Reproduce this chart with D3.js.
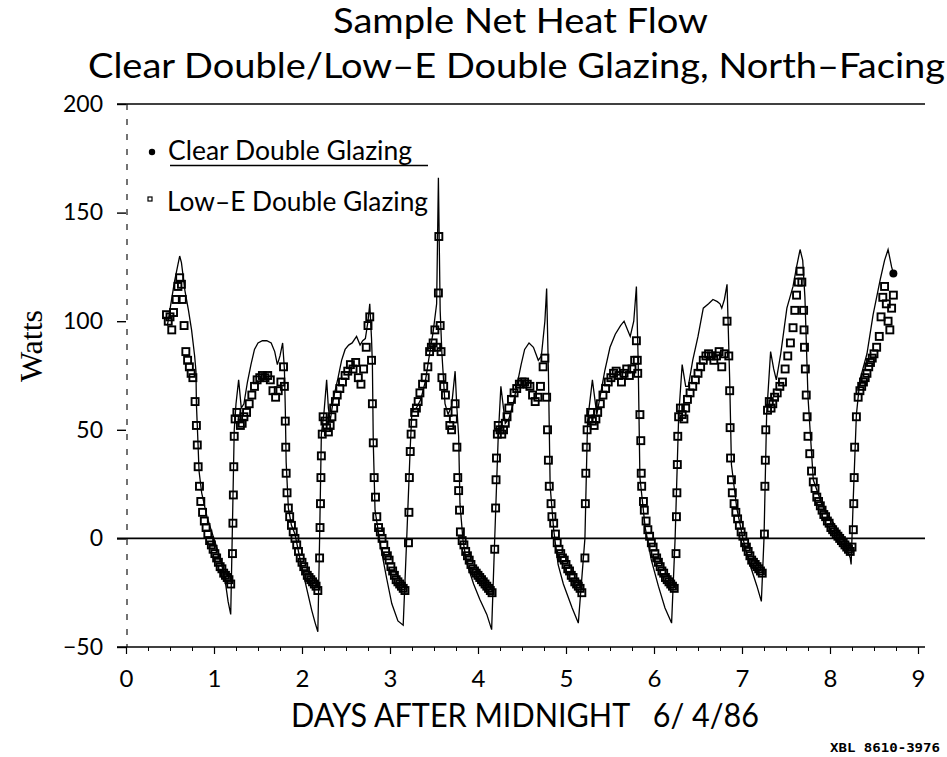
<!DOCTYPE html>
<html>
<head>
<meta charset="utf-8">
<script src="https://cdn.jsdelivr.net/npm/d3@7"></script>
<style>
  body { margin: 0; background: #fff; }
  text { font-family: "Lato", "Liberation Sans", sans-serif; fill: #000; }
</style>
</head>
<body>
<script>
// Clear double glazing, drawn as a line: [days after midnight, watts]
var clearGlazing = [
  [0.47, 98], [0.51, 108], [0.55, 118], [0.59, 126], [0.61, 130], [0.63, 127], [0.67, 114], [0.71, 105], [0.745, 96],
  [0.78, 84], [0.795, 77], [0.80, 62], [0.815, 47], [0.83, 31], [0.86, 21], [0.92, 10], [0.99, 1], [1.07, -9],
  [1.125, -19], [1.16, -29], [1.19, -35],
  [1.21, 7], [1.23, 50], [1.25, 62], [1.28, 73], [1.31, 60], [1.34, 62], [1.38, 72], [1.42, 80], [1.46, 87], [1.50, 90],
  [1.55, 91], [1.60, 91], [1.65, 90], [1.69, 86], [1.72, 80], [1.75, 84], [1.78, 90], [1.80, 78], [1.81, 60], [1.82, 35],
  [1.845, 14], [1.88, 6], [1.92, 2], [1.97, -8], [2.03, -19], [2.07, -26], [2.11, -33], [2.15, -39], [2.18, -43],
  [2.20, 0], [2.22, 48], [2.25, 58], [2.28, 73], [2.30, 60], [2.32, 54], [2.36, 65], [2.41, 74], [2.45, 82], [2.49, 87],
  [2.53, 89], [2.57, 90], [2.62, 93], [2.66, 89], [2.69, 91], [2.72, 92], [2.75, 100], [2.77, 108], [2.79, 92], [2.80, 80],
  [2.81, 44], [2.83, 13], [2.89, -3], [2.96, -18], [3.02, -30], [3.09, -38], [3.15, -40],
  [3.19, 0], [3.23, 42], [3.25, 59], [3.30, 60], [3.35, 64], [3.40, 72], [3.45, 85], [3.49, 95], [3.53, 108], [3.55, 166],
  [3.57, 105], [3.59, 85], [3.625, 62], [3.66, 57], [3.70, 61], [3.74, 77], [3.76, 60], [3.78, 47], [3.795, 16], [3.83, -1],
  [3.87, -11], [3.95, -21], [4.02, -28], [4.10, -35], [4.155, -42],
  [4.19, 0], [4.23, 47], [4.26, 70], [4.31, 53], [4.35, 55], [4.40, 62], [4.44, 70], [4.49, 80], [4.53, 87], [4.58, 90],
  [4.63, 88], [4.685, 82], [4.72, 84], [4.76, 100], [4.78, 115], [4.80, 77], [4.82, 24], [4.86, 4], [4.91, -12], [4.97, -21],
  [5.07, -32], [5.14, -39],
  [5.215, 0], [5.245, 54], [5.30, 73], [5.35, 57], [5.40, 68], [5.44, 77], [5.50, 88], [5.56, 94], [5.62, 98], [5.66, 100],
  [5.70, 96], [5.73, 93], [5.77, 100], [5.80, 116], [5.82, 82], [5.84, 28], [5.90, 5], [5.97, -10], [6.05, -22], [6.125, -32],
  [6.20, -39],
  [6.24, 0], [6.28, 56], [6.32, 80], [6.36, 70], [6.39, 70], [6.44, 82], [6.50, 93], [6.56, 106], [6.62, 108], [6.67, 110],
  [6.72, 109], [6.75, 108], [6.77, 106], [6.80, 110], [6.83, 117], [6.86, 73], [6.88, 34], [6.94, 14], [7.01, 0], [7.09, -12],
  [7.17, -22], [7.22, -29],
  [7.25, 0], [7.28, 57], [7.325, 86], [7.36, 78], [7.39, 73], [7.44, 85], [7.51, 106], [7.58, 116], [7.62, 125], [7.66, 133],
  [7.69, 128], [7.715, 111], [7.75, 65], [7.81, 27], [7.905, 16], [7.97, 11], [8.04, 7], [8.10, 3], [8.15, 0], [8.23, -9],
  [8.24, -12],
  [8.265, 19], [8.30, 57], [8.34, 73], [8.42, 85], [8.49, 103], [8.57, 119], [8.62, 128], [8.66, 133], [8.70, 125], [8.72, 122]
];

// Low-E double glazing, drawn as open squares: [days after midnight, watts]
var lowEGlazing = [
  [0.46, 103], [0.48, 100], [0.50, 102], [0.52, 96], [0.54, 104], [0.57, 110], [0.59, 116], [0.61, 120], [0.63, 117],
  [0.64, 110], [0.66, 98], [0.68, 86], [0.70, 82], [0.72, 79], [0.74, 76], [0.76, 74], [0.785, 63], [0.80, 52], [0.81, 43],
  [0.82, 33], [0.835, 24], [0.85, 17], [0.87, 12], [0.89, 8], [0.91, 5], [0.93, 2], [0.95, -1], [0.97, -3], [0.99, -5],
  [1.01, -7], [1.03, -9], [1.05, -11], [1.07, -13], [1.09, -14], [1.11, -16], [1.13, -17], [1.15, -18], [1.17, -19], [1.19, -21],
  [1.21, -7], [1.215, 7], [1.22, 20], [1.225, 33], [1.23, 47], [1.24, 55], [1.26, 58], [1.28, 55], [1.30, 52], [1.32, 53],
  [1.34, 56], [1.37, 58], [1.40, 62], [1.43, 66], [1.46, 70], [1.49, 73], [1.52, 74], [1.55, 75], [1.58, 74], [1.61, 75],
  [1.64, 73], [1.67, 68], [1.70, 65], [1.73, 68], [1.76, 72], [1.79, 79], [1.80, 70], [1.81, 54], [1.815, 42], [1.82, 30],
  [1.83, 21], [1.845, 14], [1.86, 10], [1.88, 6], [1.90, 3], [1.92, 0], [1.94, -3], [1.96, -6], [1.98, -9], [2.00, -11],
  [2.02, -13], [2.04, -15], [2.06, -17], [2.08, -18], [2.10, -19], [2.12, -20], [2.14, -21], [2.16, -22], [2.18, -24],
  [2.20, -9], [2.205, 5], [2.21, 16], [2.215, 28], [2.22, 38], [2.23, 48], [2.24, 56], [2.26, 54], [2.28, 51], [2.30, 49],
  [2.32, 52], [2.34, 56], [2.36, 60], [2.38, 63], [2.40, 66], [2.43, 69], [2.46, 72], [2.49, 75], [2.52, 77], [2.55, 80],
  [2.58, 78], [2.61, 81], [2.64, 74], [2.67, 71], [2.70, 78], [2.73, 88], [2.75, 98], [2.77, 102], [2.79, 82], [2.80, 62],
  [2.81, 44], [2.82, 28], [2.835, 19], [2.85, 10], [2.87, 5], [2.89, 3], [2.91, 0], [2.93, -3], [2.95, -6], [2.97, -8],
  [2.99, -10], [3.01, -13], [3.03, -15], [3.05, -17], [3.07, -19], [3.09, -20], [3.11, -21], [3.13, -22], [3.15, -23], [3.17, -24],
  [3.21, -2], [3.215, 12], [3.22, 28], [3.23, 40], [3.24, 48], [3.26, 53], [3.28, 58], [3.30, 60], [3.32, 63], [3.34, 67],
  [3.37, 71], [3.40, 74], [3.43, 79], [3.45, 86], [3.47, 88], [3.49, 90], [3.51, 96], [3.53, 88], [3.55, 113], [3.555, 139],
  [3.57, 98], [3.58, 86], [3.59, 74], [3.61, 70], [3.63, 66], [3.66, 58], [3.68, 52], [3.70, 50], [3.72, 55], [3.74, 62],
  [3.76, 42], [3.77, 28], [3.78, 22], [3.79, 13], [3.80, 3], [3.82, -1], [3.84, -3], [3.86, -6], [3.88, -8], [3.90, -10],
  [3.92, -12], [3.94, -14], [3.96, -15], [3.98, -16], [4.00, -17], [4.02, -18], [4.04, -19], [4.06, -20], [4.08, -21],
  [4.10, -22], [4.12, -23], [4.14, -24], [4.16, -25],
  [4.19, -5], [4.20, 14], [4.205, 27], [4.21, 37], [4.22, 48], [4.23, 52], [4.25, 50], [4.27, 48], [4.29, 50], [4.31, 53],
  [4.33, 56], [4.35, 60], [4.38, 64], [4.41, 67], [4.44, 69], [4.47, 71], [4.50, 72], [4.53, 72], [4.56, 71], [4.59, 70],
  [4.62, 66], [4.65, 63], [4.68, 65], [4.71, 70], [4.74, 79], [4.76, 83], [4.78, 65], [4.79, 50], [4.80, 36], [4.81, 24],
  [4.83, 16], [4.84, 10], [4.86, 7], [4.88, 2], [4.90, -2], [4.92, -5], [4.94, -7], [4.96, -9], [4.98, -10], [5.00, -12],
  [5.02, -14], [5.04, -15], [5.06, -17], [5.08, -18], [5.10, -20], [5.12, -21], [5.14, -22], [5.16, -23], [5.18, -25],
  [5.215, -9], [5.22, 16], [5.225, 30], [5.23, 42], [5.24, 50], [5.26, 55], [5.28, 58], [5.30, 54], [5.32, 52], [5.34, 55],
  [5.36, 58], [5.39, 62], [5.42, 66], [5.45, 69], [5.48, 72], [5.51, 74], [5.54, 76], [5.57, 77], [5.60, 75], [5.63, 72],
  [5.66, 76], [5.69, 78], [5.72, 75], [5.75, 78], [5.78, 82], [5.80, 91], [5.81, 82], [5.815, 76], [5.84, 57], [5.85, 45],
  [5.855, 30], [5.86, 24], [5.88, 17], [5.89, 13], [5.91, 8], [5.93, 4], [5.95, 1], [5.97, -2], [5.99, -4], [6.01, -7],
  [6.03, -9], [6.05, -11], [6.07, -13], [6.09, -15], [6.11, -16], [6.13, -18], [6.15, -19], [6.17, -20], [6.19, -21],
  [6.21, -22], [6.23, -23],
  [6.25, -7], [6.255, 10], [6.26, 21], [6.265, 34], [6.27, 47], [6.28, 56], [6.30, 60], [6.32, 57], [6.34, 55], [6.36, 60],
  [6.38, 64], [6.41, 67], [6.44, 70], [6.47, 73], [6.50, 76], [6.53, 79], [6.56, 82], [6.59, 84], [6.62, 85], [6.65, 84],
  [6.68, 82], [6.71, 84], [6.74, 86], [6.77, 79], [6.80, 85], [6.83, 100], [6.85, 84], [6.86, 68], [6.865, 51], [6.87, 37],
  [6.88, 27], [6.89, 21], [6.91, 16], [6.93, 12], [6.95, 9], [6.97, 6], [6.99, 3], [7.01, 1], [7.03, -2], [7.05, -4],
  [7.07, -6], [7.09, -8], [7.11, -10], [7.13, -11], [7.15, -12], [7.17, -13], [7.19, -14], [7.21, -15], [7.23, -16],
  [7.255, 2], [7.26, 24], [7.265, 36], [7.27, 50], [7.29, 59], [7.31, 63], [7.33, 60], [7.35, 62], [7.37, 65], [7.40, 67],
  [7.43, 70], [7.46, 72], [7.49, 78], [7.52, 84], [7.55, 90], [7.58, 97], [7.60, 105], [7.62, 112], [7.64, 118], [7.66, 123],
  [7.68, 118], [7.70, 105], [7.705, 96], [7.71, 88], [7.72, 78], [7.73, 66], [7.74, 56], [7.75, 47], [7.77, 39], [7.79, 31],
  [7.81, 26], [7.83, 23], [7.85, 19], [7.87, 17], [7.89, 15], [7.91, 13], [7.93, 11], [7.95, 10], [7.97, 8], [7.99, 7],
  [8.01, 5], [8.03, 4], [8.05, 3], [8.07, 2], [8.09, 1], [8.11, 0], [8.13, -1], [8.15, -2], [8.17, -3], [8.19, -4],
  [8.21, -5], [8.23, -6], [8.25, -4],
  [8.265, 4], [8.27, 16], [8.275, 28], [8.28, 42], [8.30, 56], [8.32, 65], [8.34, 68], [8.36, 70], [8.38, 72], [8.40, 74],
  [8.42, 76], [8.44, 79], [8.46, 81], [8.48, 83], [8.50, 85], [8.53, 88], [8.56, 93], [8.58, 102], [8.60, 111], [8.62, 116],
  [8.64, 108], [8.66, 100], [8.68, 96], [8.70, 106], [8.72, 112]
];

var xTicks = [0, 1, 2, 3, 4, 5, 6, 7, 8, 9];
var yTicks = [-50, 0, 50, 100, 150, 200];
var fullLines = [-50, 0, 200];

var svgWidth = 947;
var svgHeight = 757;

var margin = {
  top: 104,
  right: 29,
  bottom: 110,
  left: 126
};

var width = 792;
var height = svgHeight - margin.top - margin.bottom;

var svg = d3.select("body")
  .append("svg")
  .attr("width", svgWidth)
  .attr("height", svgHeight);

var chartGroup = svg.append("g")
  .attr("transform", `translate(${margin.left}, ${margin.top})`);

// scales
var xLinearScale = d3.scaleLinear()
  .domain([0, 9])
  .range([0, width]);

var yLinearScale = d3.scaleLinear()
  .domain([-50, 200])
  .range([height, 0]);

// dashed left axis
chartGroup.append("line")
  .attr("x1", 1).attr("x2", 1)
  .attr("y1", 0).attr("y2", height)
  .attr("stroke", "#000")
  .attr("stroke-width", 1.1)
  .attr("stroke-dasharray", "6,9");

// full width lines at 200, 0 and -50
chartGroup.selectAll(".hline")
  .data(fullLines)
  .enter().append("line")
  .attr("x1", -9)
  .attr("x2", width + 7)
  .attr("y1", d => yLinearScale(d))
  .attr("y2", d => yLinearScale(d))
  .attr("stroke", "#000")
  .attr("stroke-width", 1.6);

// y axis
var leftAxis = d3.axisLeft(yLinearScale)
  .tickValues(yTicks)
  .tickSize(9)
  .tickPadding(14)
  .tickFormat(d => d < 0 ? "\u2212" + Math.abs(d) : d);

var yAxis = chartGroup.append("g").call(leftAxis);
yAxis.select(".domain").remove();
yAxis.selectAll("line").attr("stroke-width", 1.4);
yAxis.selectAll("text")
  .style("font-family", "Lato, 'Liberation Sans', sans-serif")
  .style("font-size", "23px");

// x axis
var bottomAxis = d3.axisBottom(xLinearScale)
  .tickValues(xTicks)
  .tickSize(7)
  .tickPadding(16);

var xAxis = chartGroup.append("g")
  .attr("transform", `translate(0, ${height})`)
  .call(bottomAxis);
xAxis.select(".domain").remove();
xAxis.selectAll("line").attr("stroke-width", 1.2);
xAxis.selectAll("text")
  .style("font-family", "Lato, 'Liberation Sans', sans-serif")
  .style("font-size", "24px");

// minor ticks every quarter day
var minorAxis = d3.axisBottom(xLinearScale)
  .tickValues(d3.range(0, 36).map(d => d / 4))
  .tickSize(4)
  .tickFormat("");

var xMinor = chartGroup.append("g")
  .attr("transform", `translate(0, ${height})`)
  .call(minorAxis);
xMinor.select(".domain").remove();

// clear double glazing line
var clearLine = d3.line()
  .x(d => xLinearScale(d[0]))
  .y(d => yLinearScale(d[1]));

chartGroup.append("path")
  .datum(clearGlazing)
  .attr("d", clearLine)
  .attr("fill", "none")
  .attr("stroke", "#000")
  .attr("stroke-width", 1.3);

var lastClear = clearGlazing[clearGlazing.length - 1];
chartGroup.append("circle")
  .attr("cx", xLinearScale(lastClear[0]))
  .attr("cy", yLinearScale(lastClear[1]))
  .attr("r", 4)
  .attr("fill", "#000");

// low-e open squares
chartGroup.selectAll(".sq")
  .data(lowEGlazing)
  .enter().append("rect")
  .attr("x", d => xLinearScale(d[0]) - 3.5)
  .attr("y", d => yLinearScale(d[1]) - 3.5)
  .attr("width", 7)
  .attr("height", 7)
  .attr("fill", "none")
  .attr("stroke", "#000")
  .attr("stroke-width", 1.9);

// legend
svg.append("circle")
  .attr("cx", 152).attr("cy", 152).attr("r", 3.2)
  .attr("fill", "#000");

svg.append("text")
  .attr("x", 168).attr("y", 160)
  .attr("textLength", 244)
  .attr("lengthAdjust", "spacingAndGlyphs")
  .style("font-size", "26px")
  .text("Clear Double Glazing");

svg.append("line")
  .attr("x1", 170).attr("x2", 428)
  .attr("y1", 165.5).attr("y2", 165.5)
  .attr("stroke", "#000")
  .attr("stroke-width", 1.5);

svg.append("rect")
  .attr("x", 148).attr("y", 197)
  .attr("width", 4).attr("height", 4)
  .attr("fill", "none")
  .attr("stroke", "#000")
  .attr("stroke-width", 1.2);

svg.append("text")
  .attr("x", 167).attr("y", 211)
  .attr("textLength", 261)
  .attr("lengthAdjust", "spacingAndGlyphs")
  .style("font-size", "26px")
  .text("Low\u2013E Double Glazing");

// titles
svg.append("text")
  .attr("x", 333).attr("y", 33)
  .attr("textLength", 375)
  .attr("lengthAdjust", "spacingAndGlyphs")
  .style("font-size", "34px")
  .text("Sample Net Heat Flow");

svg.append("text")
  .attr("x", 88).attr("y", 78)
  .attr("textLength", 857)
  .attr("lengthAdjust", "spacingAndGlyphs")
  .style("font-size", "34px")
  .text("Clear Double/Low\u2013E Double Glazing, North\u2013Facing");

svg.append("text")
  .attr("x", 291).attr("y", 727)
  .attr("textLength", 468)
  .attr("lengthAdjust", "spacingAndGlyphs")
  .style("font-size", "32px")
  .style("white-space", "pre")
  .text("DAYS AFTER MIDNIGHT   6/ 4/86");

svg.append("text")
  .attr("transform", "translate(42, 346) rotate(-90)")
  .attr("text-anchor", "middle")
  .style("font-family", "'Liberation Serif', 'DejaVu Serif', serif")
  .style("font-size", "32px")
  .text("Watts");

svg.append("text")
  .attr("x", 830).attr("y", 752)
  .attr("textLength", 110)
  .attr("lengthAdjust", "spacingAndGlyphs")
  .style("font-family", "'DejaVu Sans Mono', monospace")
  .style("font-weight", "bold")
  .style("font-size", "13px")
  .text("XBL 8610-3976");
</script>
</body>
</html>
